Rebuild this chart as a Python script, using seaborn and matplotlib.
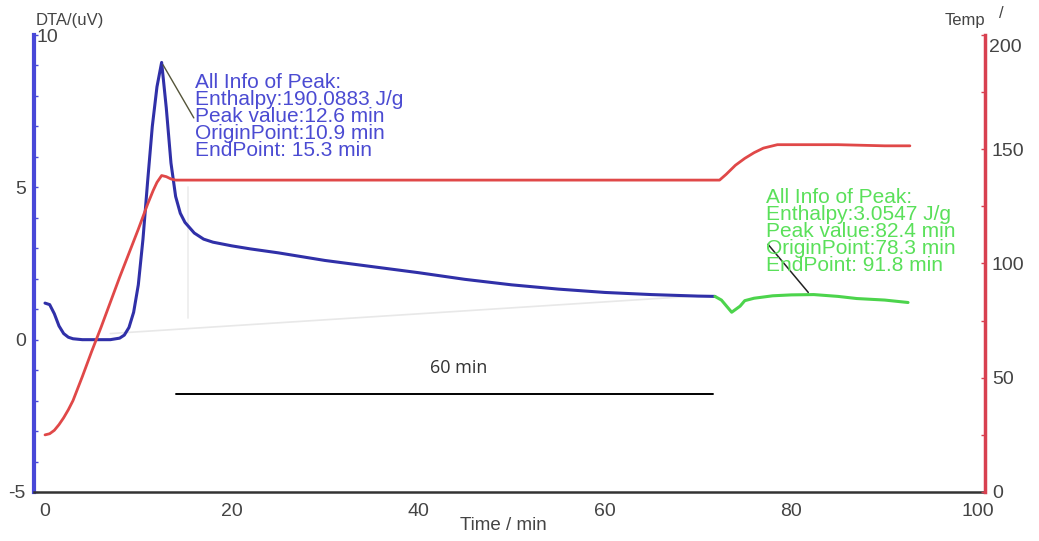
import matplotlib
matplotlib.use("Agg")
import matplotlib.pyplot as plt
import seaborn as sns
import pandas as pd
import numpy as np
from matplotlib.ticker import MultipleLocator, FixedLocator, FixedFormatter

# ---------------- data ----------------
dta_time = [0, 0.5, 1, 1.5, 2, 2.5, 3, 4, 5, 6, 7, 8, 8.5, 9, 9.5, 10, 10.5, 11,
            11.5, 12, 12.5, 13, 13.5, 14, 14.5, 15, 16, 17, 18, 20, 22, 25, 28,
            30, 35, 40, 45, 50, 55, 60, 65, 70, 71.8]
dta_value = [1.2, 1.15, 0.85, 0.45, 0.2, 0.08, 0.03, 0.0, 0.0, 0.0, 0.0, 0.05,
             0.15, 0.4, 0.9, 1.8, 3.3, 5.2, 7.0, 8.3, 9.1, 7.6, 5.8, 4.7, 4.15,
             3.85, 3.5, 3.3, 3.2, 3.08, 2.98, 2.85, 2.7, 2.6, 2.4, 2.2, 1.98,
             1.8, 1.66, 1.55, 1.48, 1.43, 1.42]

peak2_time = [71.8, 72.5, 73.6, 74.5, 75, 76, 78, 80, 82.4, 85, 87, 90, 92.5]
peak2_value = [1.42, 1.3, 0.9, 1.1, 1.28, 1.36, 1.44, 1.47, 1.48, 1.42, 1.35,
               1.3, 1.22]

temp_time = [0, 0.5, 1, 1.5, 2, 2.5, 3, 4, 5, 6, 7, 8, 9, 10, 11, 11.6, 12,
             12.5, 13, 13.5, 14, 15, 20, 30, 40, 50, 60, 70, 72.3, 73, 74, 75,
             76, 77, 78, 78.5, 80, 85, 90, 92.7]
temp_value = [25, 25.5, 27, 29.5, 32.5, 36, 40, 50.5, 61.5, 72, 83, 94, 104.5,
              115, 126, 132, 135.5, 138.5, 138, 137, 136.5, 136.5, 136.5, 136.5,
              136.5, 136.5, 136.5, 136.5, 136.5, 139, 143, 146, 148.5, 150.5,
              151.5, 152, 152, 152, 151.5, 151.5]

baseline_time = [7.0, 70.2]
baseline_value = [0.2, 1.44]
endline_time = [15.3, 15.3]
endline_value = [0.7, 5.0]

scale_bar_time = [14.0, 71.6]
scale_bar_level = -1.78
scale_bar_label = "60 min"

x_ticks = [0, 20, 40, 60, 80, 100]
dta_ticks = [-5, 0, 5, 10]
dta_tick_labels = ["-5", "0", "5", ""]
temp_ticks = [0, 50, 100, 150, 200]
temp_tick_labels = ["0", "50", "100", "150", ""]

peak1_lines = ["All Info of Peak:", "Enthalpy:190.0883 J/g", "Peak value:12.6 min",
               "OriginPoint:10.9 min", "EndPoint: 15.3 min"]
peak2_lines = ["All Info of Peak:", "Enthalpy:3.0547 J/g", "Peak value:82.4 min",
               "OriginPoint:78.3 min", "EndPoint: 91.8 min"]

# ---------------- style ----------------
sns.set_style("white")
plt.rcParams["font.family"] = ["Liberation Sans", "DejaVu Sans"]

W, H = 1039, 541
fig = plt.figure(figsize=(W / 100, H / 100), dpi=100)
L, R, T, B = 34, 985, 35, 492
ax = fig.add_axes([L / W, 1 - B / H, (R - L) / W, (B - T) / H])
ax2 = ax.twinx()

BLUE_LINE = "#3030a8"
BLUE_AX = "#4848d8"
BLUE_TXT = "#4b4bd2"
GREEN = "#4cd44c"
GREEN_TXT = "#5ae05a"
RED = "#e04848"
RED_AX = "#d84050"
TICKC = "#444444"

# faint integration baselines
ax.plot(baseline_time, baseline_value, color="#e8e8e8", lw=1.2, zorder=1)
ax.plot(endline_time, endline_value, color="#ececec", lw=1.2, zorder=1)

df_dta = pd.DataFrame({"t": dta_time, "v": dta_value})
df_p2 = pd.DataFrame({"t": peak2_time, "v": peak2_value})
df_temp = pd.DataFrame({"t": temp_time, "v": temp_value})

sns.lineplot(data=df_dta, x="t", y="v", ax=ax, color=BLUE_LINE, lw=2.2,
             estimator=None, sort=False, zorder=3)
sns.lineplot(data=df_p2, x="t", y="v", ax=ax, color=GREEN, lw=2.2,
             estimator=None, sort=False, zorder=3)
sns.lineplot(data=df_temp, x="t", y="v", ax=ax2, color=RED, lw=2.0,
             estimator=None, sort=False)

ax.set_xlim(-1.18, 100.75)
ax.set_ylim(-5, 10)
ax2.set_ylim(0, 200)

# scale bar annotation
ax.plot(scale_bar_time, [scale_bar_level, scale_bar_level], color="black", lw=1.4)
ax.text(44.3, -0.93, scale_bar_label, ha="center", va="center", fontsize=13,
        color="#333333", family=["Open Sans", "DejaVu Sans"])

# peak annotations
i1 = int(np.argmax(dta_value))
ax.annotate("", xy=(dta_time[i1], dta_value[i1]), xytext=(16.1, 7.2),
            arrowprops=dict(arrowstyle="-", color="#55553a", lw=1.0))
i2 = int(np.argmax(peak2_value))
ax.annotate("", xy=(82.0, peak2_value[i2]), xytext=(77.3, 3.2),
            arrowprops=dict(arrowstyle="-", color="#222222", lw=1.1))

px_per_unit = (B - T) / 15.0
for k, s in enumerate(peak1_lines):
    yv = 8.43 - k * 17 / px_per_unit
    ax.text(16.1, yv, s, color=BLUE_TXT, fontsize=15, ha="left", va="center",
            zorder=5)
for k, s in enumerate(peak2_lines):
    yv = 4.68 - k * 17.2 / px_per_unit
    ax.text(77.3, yv, s, color=GREEN_TXT, fontsize=15, ha="left", va="center",
            zorder=5)

# spines
for sp in ["top", "right"]:
    ax.spines[sp].set_visible(False)
ax.spines["left"].set_color(BLUE_AX)
ax.spines["left"].set_linewidth(3)
ax.spines["bottom"].set_color("#333333")
ax.spines["bottom"].set_linewidth(1.8)
for sp in ["top", "left", "bottom"]:
    ax2.spines[sp].set_visible(False)
ax2.spines["right"].set_color(RED_AX)
ax2.spines["right"].set_linewidth(2.5)

# ticks
ax.xaxis.set_major_locator(FixedLocator(x_ticks))
ax.xaxis.set_minor_locator(MultipleLocator(2))
ax.tick_params(axis="x", which="both", direction="out", colors="#333333",
               labelcolor=TICKC, labelsize=14, pad=3)
ax.tick_params(axis="x", which="major", length=5, width=1.3)
ax.tick_params(axis="x", which="minor", length=4, width=1.2)

ax.yaxis.set_major_locator(FixedLocator(dta_ticks))
ax.yaxis.set_major_formatter(FixedFormatter(dta_tick_labels))
ax.yaxis.set_minor_locator(MultipleLocator(1))
ax.tick_params(axis="y", which="both", direction="in", colors=BLUE_AX,
               labelcolor=TICKC, labelsize=14, pad=6, length=3, width=1)

ax2.yaxis.set_major_locator(FixedLocator(temp_ticks))
ax2.yaxis.set_major_formatter(FixedFormatter(temp_tick_labels))
ax2.yaxis.set_minor_locator(MultipleLocator(25))
ax2.tick_params(axis="y", which="both", direction="in", colors=RED_AX,
                labelcolor=TICKC, labelsize=14, pad=5, length=3, width=1)

ax.set_xlabel("")
ax.set_ylabel("")
ax2.set_ylabel("")

# axis titles and shifted end labels
fig.text(36 / W, 1 - 21 / H, "DTA/(uV)", fontsize=12, color=TICKC, ha="left", va="center")
fig.text(36 / W, 1 - 37 / H, "10", fontsize=14, color=TICKC, ha="left", va="center")
fig.text(985 / W, 1 - 20 / H, "Temp", fontsize=12, color=TICKC, ha="right", va="center")
fig.text(1001 / W, 1 - 13 / H, "/", fontsize=12, color=TICKC, ha="center", va="center")
fig.text(989 / W, 1 - 47 / H, "200", fontsize=14, color=TICKC, ha="left", va="center")
fig.text(503 / W, 1 - 526 / H, "Time / min", fontsize=13.5, color=TICKC, ha="center", va="center")

fig.savefig("out.png", dpi=100, facecolor="white")
